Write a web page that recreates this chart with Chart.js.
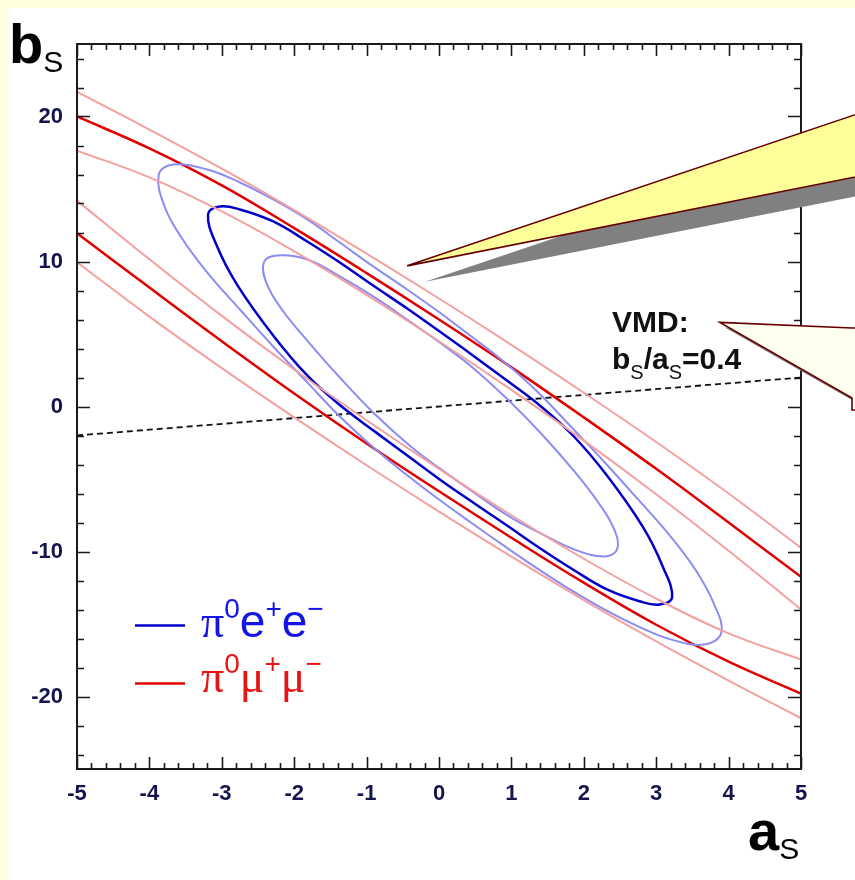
<!DOCTYPE html>
<html>
<head>
<meta charset="utf-8">
<script src="https://cdn.jsdelivr.net/npm/chart.js@4.4.0/dist/chart.umd.min.js"></script>
<style>
  html, body { margin: 0; padding: 0; }
  body { width: 855px; height: 880px; background: #ffffe0; overflow: hidden; position: relative; }
  #sheet { position: absolute; left: 8px; top: 8px; width: 847px; height: 872px; background: #fff; }
  #wrap { position: absolute; left: 0; top: 0; width: 855px; height: 880px; }
</style>
</head>
<body>
<div id="sheet"></div>
<div id="wrap"><canvas id="contours" width="855" height="880"></canvas></div>
<script>
// axis ticks
const xTicks = [-5, -4, -3, -2, -1, 0, 1, 2, 3, 4, 5];
const yTicks = [-20, -10, 0, 10, 20];

// pi0 e+e- contours (closed loops), [a_S, b_S]
const eeOuter = [[0.01, 6.48], [0.43, 4.9], [0.91, 3.03], [1.37, 0.97], [1.82, -1.38], [2.29, -3.86],
  [2.75, -6.41], [3.20, -8.97], [3.54, -11.24], [3.79, -13.52], [3.90, -15.59], [3.67, -16.41],
  [3.20, -16.06], [2.75, -15.16], [2.29, -14.01], [1.82, -12.65], [1.37, -11.21], [0.91, -9.65],
  [0.44, -8.0], [-0.01, -6.38], [-0.43, -4.78], [-0.91, -2.81], [-1.37, -0.69], [-1.82, 1.66],
  [-2.29, 4.14], [-2.75, 6.69], [-3.20, 9.24], [-3.54, 11.52], [-3.79, 13.79], [-3.87, 16.0],
  [-3.67, 16.69], [-3.20, 16.34], [-2.75, 15.45], [-2.29, 14.28], [-1.82, 12.90], [-1.37, 11.31],
  [-0.91, 9.66], [-0.44, 8.07], [0.01, 6.48]];
const eeMid = [[0.01, 5.17], [0.43, 3.66], [0.91, 1.89], [1.40, 0.04], [1.85, -2.0], [2.32, -4.76],
  [2.82, -8.34], [3.09, -11.03], [3.22, -13.17], [3.05, -13.66], [2.78, -13.45], [2.32, -12.62],
  [1.85, -11.24], [1.40, -9.79], [0.94, -8.21], [0.47, -6.62], [0.01, -5.03], [-0.40, -3.52],
  [-0.88, -1.75], [-1.37, 0.1], [-1.82, 2.14], [-2.29, 4.90], [-2.79, 8.41], [-3.07, 11.10],
  [-3.19, 13.24], [-3.03, 13.79], [-2.75, 13.59], [-2.29, 12.76], [-1.82, 11.38], [-1.37, 9.93],
  [-0.91, 8.34], [-0.44, 6.76], [0.01, 5.17]];
const eeInner = [[0.01, 4.41], [0.43, 2.83], [0.95, 0.48], [1.41, -1.86], [1.87, -4.48], [2.20, -6.62],
  [2.42, -8.48], [2.46, -9.86], [2.28, -10.34], [1.87, -9.86], [1.41, -8.76], [0.95, -7.52],
  [0.48, -5.93], [0.03, -4.34], [-0.39, -2.76], [-0.91, -0.41], [-1.37, 2.0], [-1.82, 4.55],
  [-2.16, 6.62], [-2.38, 8.48], [-2.42, 9.93], [-2.24, 10.41], [-1.82, 10.14], [-1.37, 8.97],
  [-0.91, 7.59], [-0.44, 6.0], [0.01, 4.41]];

// pi0 mu+mu- contours, upper and lower branches read at each integer a_S
const mmA = [-5, -4, -3, -2, -1, 0, 1, 2, 3, 4, 5];
const mmOuterUp = [21.7, 19.1, 16.4, 13.55, 10.55, 7.45, 4.25, 0.95, -2.45, -6.0, -9.75];
const mmOuterDown = [9.95, 6.2, 2.65, -0.75, -4.05, -7.25, -10.35, -13.35, -16.2, -18.9, -21.5];
const mmMidUp = [20.0, 17.8, 15.25, 12.3, 9.2, 6.0, 2.7, -0.75, -4.3, -8.0, -11.75];
const mmMidDown = [11.95, 8.2, 4.5, 0.9, -2.55, -5.85, -9.05, -12.15, -15.05, -17.6, -19.8];
const mmInnerUp = [17.65, 15.8, 13.45, 10.7, 7.7, 4.5, 1.15, -2.35, -6.05, -9.95, -14.0];
const mmInnerDown = [14.2, 10.15, 6.25, 2.55, -0.95, -4.3, -7.5, -10.5, -13.25, -15.65, -17.45];

// VMD expectation b_S/a_S = 0.4
const vmdRatio = 0.4;
const vmdA = [-5, 5];

// callout tips in (a_S, b_S)
const noteTip = [-0.44, 9.7];
const vmdTip = [3.88, 5.8];

const loop = arr => arr.map(p => ({ x: p[0], y: p[1] }));
const branch = vals => vals.map((b, i) => ({ x: mmA[i], y: b }));

const RED = '#e00000', PINK = '#f3a0a0', BLUE = '#0000c8', LBLUE = '#8c8cf2';
const curve = (data, color, width) => ({
  data: data, showLine: true, borderColor: color, borderWidth: width,
  pointRadius: 0, tension: 0.4, fill: false
});

const datasets = [
  curve(branch(mmOuterUp), PINK, 2), curve(branch(mmOuterDown), PINK, 2),
  curve(branch(mmInnerUp), PINK, 2), curve(branch(mmInnerDown), PINK, 2),
  curve(loop(eeOuter), LBLUE, 2), curve(loop(eeInner), LBLUE, 2),
  curve(branch(mmMidUp), RED, 2.5), curve(branch(mmMidDown), RED, 2.5),
  curve(loop(eeMid), BLUE, 2.5),
  {
    data: vmdA.map(a => ({ x: a, y: vmdRatio * a })), showLine: true,
    borderColor: '#111', borderWidth: 1.8, borderDash: [6, 4], pointRadius: 0, fill: false
  }
];

const SANS = '"Liberation Sans", Arial, Helvetica, sans-serif';
const SERIF = '"Liberation Serif", "DejaVu Serif", serif';
const TICK_COLOR = '#14144e';

function runs(ctx, x, y, parts) {
  for (const p of parts) {
    ctx.font = p.font;
    ctx.fillStyle = p.color;
    ctx.fillText(p.text, x, y + (p.dy || 0));
    x += ctx.measureText(p.text).width + (p.gap || 0);
  }
}

// wedge callout: tip -> points along the outline, gray copy offset underneath
function callout(ctx, outline, shadow, fill) {
  const shape = (dx, dy) => {
    ctx.beginPath();
    outline.forEach((p, i) => i ? ctx.lineTo(p[0] + dx, p[1] + dy) : ctx.moveTo(p[0] + dx, p[1] + dy));
    ctx.closePath();
  };
  ctx.fillStyle = '#808080';
  shape(shadow[0], shadow[1]);
  ctx.fill();
  ctx.fillStyle = fill;
  ctx.strokeStyle = '#660000';
  ctx.lineWidth = 1.6;
  shape(0, 0);
  ctx.fill();
  ctx.stroke();
}

const framePlugin = {
  id: 'frame',
  afterDatasetsDraw(chart) {
    const { ctx, chartArea: ca, scales: { x, y } } = chart;
    ctx.save();
    ctx.strokeStyle = '#1a1a1a';
    ctx.lineWidth = 1.6;
    for (let v = -5; v <= 5.001; v += 0.2) {
      const px = Math.round(x.getPixelForValue(v)) + 0.5;
      const len = Math.abs(v - Math.round(v)) < 1e-6 ? 12 : 6;
      ctx.beginPath();
      ctx.moveTo(px, ca.bottom); ctx.lineTo(px, ca.bottom - len);
      ctx.moveTo(px, ca.top); ctx.lineTo(px, ca.top + len);
      ctx.stroke();
    }
    for (let v = -24; v <= 24; v += 2) {
      const py = Math.round(y.getPixelForValue(v)) + 0.5;
      const len = v % 10 === 0 ? 13 : 7;
      ctx.beginPath();
      ctx.moveTo(ca.left, py); ctx.lineTo(ca.left + len, py);
      ctx.moveTo(ca.right, py); ctx.lineTo(ca.right - len, py);
      ctx.stroke();
    }
    ctx.lineWidth = 2;
    ctx.strokeRect(ca.left, ca.top, ca.width, ca.height);

    // callouts
    const t1 = [x.getPixelForValue(noteTip[0]), y.getPixelForValue(noteTip[1])];
    callout(ctx, [t1, [875, 108], [875, 173]], [18, 16], '#ffff99');
    const t2 = [x.getPixelForValue(vmdTip[0]), y.getPixelForValue(vmdTip[1])];
    callout(ctx, [t2, [852, 328], [900, 328], [900, 410], [852, 410], [852, 398]], [5, 5], '#fffff0');

    // VMD note
    ctx.textBaseline = 'alphabetic';
    ctx.textAlign = 'left';
    runs(ctx, 612, 332, [{ text: 'VMD:', font: 'bold 30px ' + SANS, color: '#111' }]);
    runs(ctx, 612, 369, [
      { text: 'b', font: 'bold 30px ' + SANS, color: '#111' },
      { text: 'S', font: '20px ' + SANS, color: '#111', dy: 10 },
      { text: '/a', font: 'bold 30px ' + SANS, color: '#111' },
      { text: 'S', font: '20px ' + SANS, color: '#111', dy: 10 },
      { text: '=0.4', font: 'bold 30px ' + SANS, color: '#111' }
    ]);

    // legend
    ctx.lineWidth = 2.5;
    ctx.strokeStyle = BLUE;
    ctx.beginPath(); ctx.moveTo(135, 625.5); ctx.lineTo(185, 625.5); ctx.stroke();
    ctx.strokeStyle = RED;
    ctx.beginPath(); ctx.moveTo(135, 683.5); ctx.lineTo(185, 683.5); ctx.stroke();
    const blue = '#1414e6', red = '#e61414';
    runs(ctx, 201, 637, [
      { text: 'π', font: '46px ' + SERIF, color: blue },
      { text: '0', font: '28px ' + SANS, color: blue, dy: -19 },
      { text: 'e', font: '46px ' + SANS, color: blue },
      { text: '+', font: '28px ' + SANS, color: blue, dy: -19 },
      { text: 'e', font: '46px ' + SANS, color: blue },
      { text: '−', font: '28px ' + SANS, color: blue, dy: -19 }
    ]);
    runs(ctx, 201, 692, [
      { text: 'π', font: '46px ' + SERIF, color: red },
      { text: '0', font: '28px ' + SANS, color: red, dy: -19 },
      { text: 'μ', font: '46px ' + SERIF, color: red },
      { text: '+', font: '28px ' + SANS, color: red, dy: -19 },
      { text: 'μ', font: '46px ' + SERIF, color: red },
      { text: '−', font: '28px ' + SANS, color: red, dy: -19 }
    ]);

    // axis titles
    runs(ctx, 9, 63, [
      { text: 'b', font: 'bold 56px ' + SANS, color: '#000' },
      { text: 'S', font: '30px ' + SANS, color: '#000', dy: 9 }
    ]);
    runs(ctx, 748, 850, [
      { text: 'a', font: 'bold 56px ' + SANS, color: '#000' },
      { text: 'S', font: '30px ' + SANS, color: '#000', dy: 9 }
    ]);
    ctx.restore();
  }
};

const tickFont = { family: SANS, size: 22, weight: 'bold' };

new Chart(document.getElementById('contours'), {
  type: 'scatter',
  data: { datasets: datasets },
  options: {
    responsive: false,
    animation: false,
    devicePixelRatio: 1,
    layout: { padding: { top: 44, right: 54, left: 0, bottom: 0 } },
    plugins: { legend: { display: false }, tooltip: { enabled: false } },
    scales: {
      x: {
        type: 'linear', min: -5, max: 5,
        grid: { display: false, drawTicks: false },
        border: { display: false },
        afterBuildTicks: s => { s.ticks = xTicks.map(v => ({ value: v })); },
        afterFit: s => { s.height = 111; },
        ticks: { font: tickFont, color: TICK_COLOR, padding: 12, maxRotation: 0, autoSkip: false }
      },
      y: {
        type: 'linear', min: -25, max: 25,
        grid: { display: false, drawTicks: false },
        border: { display: false },
        afterBuildTicks: s => { s.ticks = yTicks.map(v => ({ value: v })); },
        afterFit: s => { s.width = 77; },
        ticks: { font: tickFont, color: TICK_COLOR, padding: 14, autoSkip: false }
      }
    }
  },
  plugins: [framePlugin]
});
</script>
</body>
</html>
